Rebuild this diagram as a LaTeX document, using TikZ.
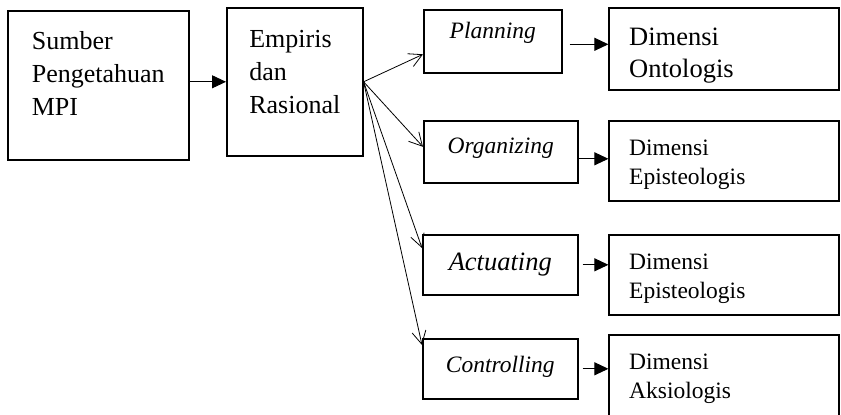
\documentclass[tikz,border=0pt]{standalone}
\usepackage{fontspec}
\setmainfont{Liberation Serif}
\usetikzlibrary{arrows.meta}

\begin{document}
\begin{tikzpicture}[x=1pt, y=-1pt,
		box/.style={draw, line width=1.6pt, inner sep=0pt, align=left},
		srcbox/.style={box, font=\fontsize{26}{33}\selectfont},
		stepbox/.style={box, font=\fontsize{23.5}{28}\selectfont\itshape, anchor=north west},
		dimbox/.style={box, font=\fontsize{23.5}{29}\selectfont, anchor=north east, text width=190pt, inner xsep=20pt, text height=35pt, text depth=45pt},
		fill arrow/.style={line width=0.9pt, -{Triangle[length=14pt, width=13pt]}},
		fan arrow/.style={line width=0.8pt, -{Straight Barb[length=13pt, width=14pt]}}
	]
	\useasboundingbox (0,0) rectangle (841,415);
	
	% Source and basis
	\node[srcbox, anchor=north west, minimum width=181pt, text height=105pt, text depth=44pt] (src) at (7,10) {Sumber\\Pengetahuan\\MPI};
	\node[srcbox, anchor=north west, minimum width=136pt, text height=106pt, text depth=42pt] (emp) at (226,7) {Empiris\\dan\\Rasional};
	
	% Management functions
	\node[stepbox, minimum width=138pt, text height=29pt, text depth=34pt] (plan) at (423,9) {Planning};
	\node[stepbox, minimum width=154pt, text height=33pt, text depth=29pt] (org) at (423,120) {Organizing};
	\node[stepbox, font=\fontsize{26.5}{30}\selectfont\itshape, minimum width=155pt, text height=36pt, text depth=24pt] (act) at (422,234) {Actuating};
	\node[stepbox, minimum width=155pt, text height=34pt, text depth=26pt] (ctrl) at (422,338) {Controlling};
	
	% Dimensions
	\node[dimbox, font=\fontsize{26.5}{32}\selectfont, text height=38pt, text depth=44pt] (onto) at (840,7) {Dimensi\\Ontologis};
	\node[dimbox] (epis) at (840,120) {Dimensi\\Episteologis};
	\node[dimbox] (epis2) at (840,234) {Dimensi\\Episteologis};
	\node[dimbox, text depth=60pt] (aksi) at (840,334) {Dimensi\\Aksiologis};
	
	% Connectors
	\draw[fill arrow] (src.east |- emp.west) -- (emp.west);
	\draw[fan arrow] (emp.east) -- ([yshift=-13pt]plan.west);
	\draw[fan arrow] (emp.east) -- ([yshift=5pt]org.west);
	\draw[fan arrow] (emp.east) -- ([yshift=-14pt]act.north west);
	\draw[fan arrow] (emp.east) -- ([yshift=-7pt]ctrl.north west);
	
	\draw[fill arrow, shorten <=7pt] ([yshift=-3pt]plan.east) -- ([yshift=-3pt]plan.east -| onto.west);
	\draw[fill arrow] ([yshift=-7pt]org.east) -- ([yshift=-7pt]org.east -| epis.west);
	\draw[fill arrow, shorten <=4pt] (act.east) -- (act.east -| epis2.west);
	\draw[fill arrow, shorten <=4pt] (ctrl.east) -- (ctrl.east -| aksi.west);
\end{tikzpicture}
\end{document}
